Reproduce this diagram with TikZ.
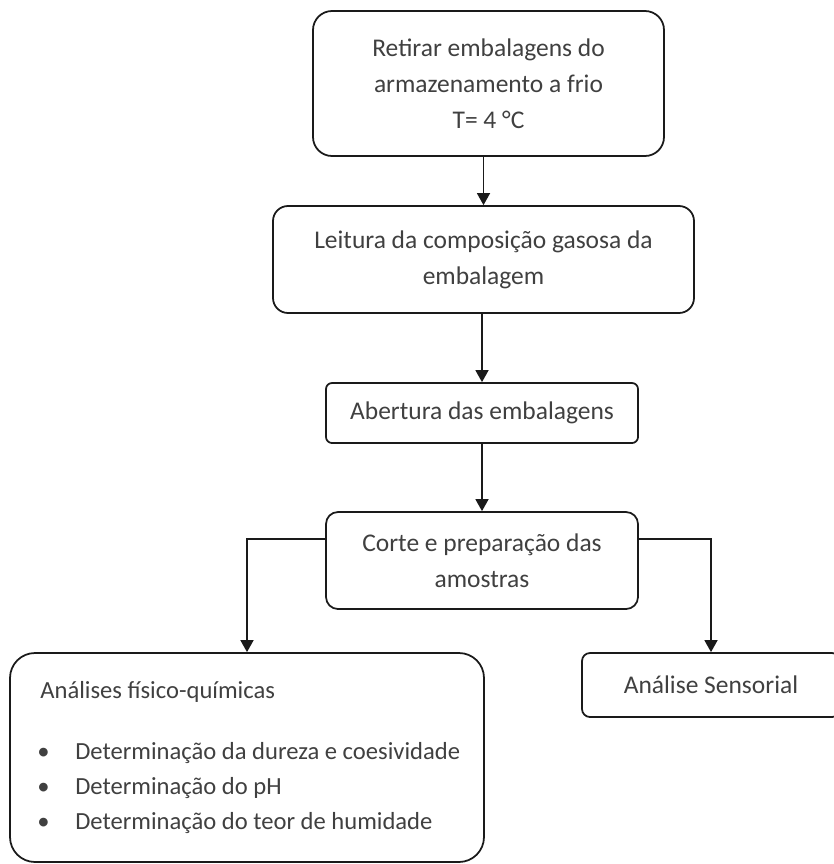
\documentclass[tikz,border=0pt]{standalone}
\usepackage{fontspec}
\setmainfont{Carlito}
\usetikzlibrary{arrows.meta,positioning,calc}
\definecolor{flowText}{HTML}{404040}
\definecolor{flowLine}{HTML}{1a1a1a}
\tikzset{
  >={Triangle[length=2.4mm,width=2.6mm]},
  stepbox/.style={draw=flowLine, line width=1pt, fill=white, align=center,
              inner sep=3pt, text=flowText, font=\fontsize{14.5}{20.5}\selectfont},
  lbl/.style={text=flowText, align=left, inner sep=0pt,
              font=\fontsize{14}{19.8}\selectfont},
  flow/.style={->, draw=flowLine, line width=0.9pt},
}

\begin{document}
\begin{tikzpicture}
    \useasboundingbox (0,0) rectangle (16.68,-17.28);
    % main column
    \node[stepbox,rounded corners=0.38cm,minimum width=7.02cm,minimum height=2.9cm] (retirar) at (9.77,-1.67){Retirar embalagens do\\armazenamento a frio\\T= 4 °C};
    \node[stepbox,rounded corners=0.3cm,minimum width=8.42cm,minimum height=2.14cm] (leitura) at (9.67,-5.19){Leitura da composição gasosa da\\embalagem};
    \node[stepbox,rounded corners=0.12cm,minimum width=6.24cm,minimum height=1.2cm] (abertura) at (9.64,-8.26){Abertura das embalagens};
    \node[stepbox,rounded corners=0.24cm,minimum width=6.24cm,minimum height=1.94cm] (corte) at (9.64,-11.21){Corte e preparação das\\amostras};

    % branches
    \node[stepbox,rounded corners=0.5cm,minimum width=9.48cm,minimum height=4.18cm] (fisico) at (4.94,-15.15){};
    \node[lbl,anchor=west] (fisicoTitle) at (0.8,-13.84){Análises físico-químicas};
    \node[lbl,anchor=north west] (fisicoList) at (0.74,-14.84){%
      \makebox[0.76cm][l]{\textbullet}Determinação da dureza e coesividade\\
      \makebox[0.76cm][l]{\textbullet}Determinação do pH\\
      \makebox[0.76cm][l]{\textbullet}Determinação do teor de humidade};
    \node[stepbox,rounded corners=0.16cm,minimum width=5.16cm,minimum height=1.28cm] (sensorial) at (14.22,-13.7){Análise Sensorial};

    \draw[flow] (retirar.south -| leitura.north) -- (leitura.north);
    \draw[flow] (leitura.south -| abertura.north) -- (abertura.north);
    \draw[flow] (abertura) -- (corte);
    \draw[flow] ([yshift=0.43cm]corte.west) -| (fisico.north);
    \draw[flow] ([yshift=0.43cm]corte.east) -| (sensorial.north);
  \end{tikzpicture}
\end{document}
